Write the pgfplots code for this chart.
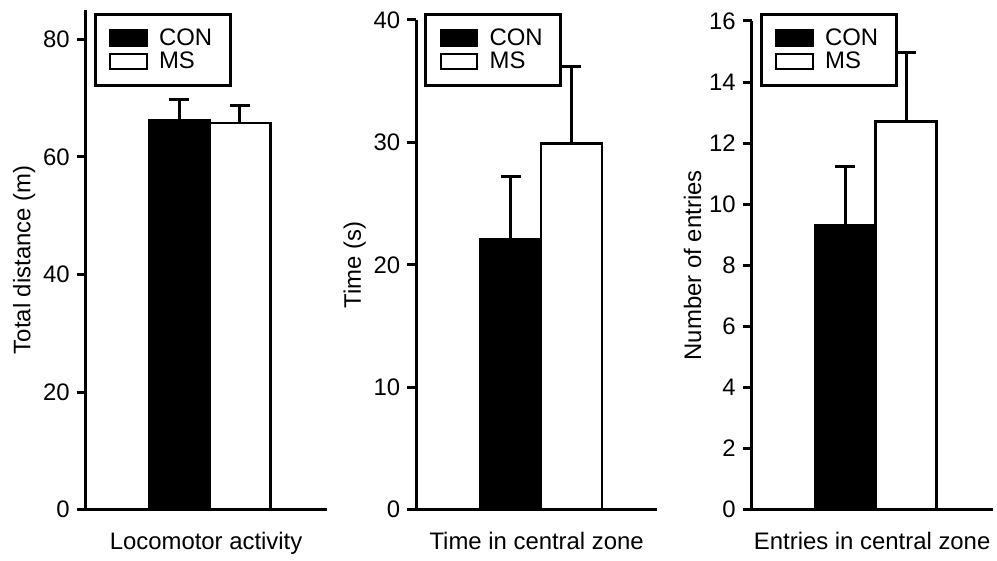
\documentclass[border=0pt]{standalone}
\usepackage{fontspec}
\setmainfont{Liberation Sans}
\usepackage{pgfplots}
\pgfplotsset{compat=1.18}

\pgfplotsset{
  panel/.style={
    scale only axis,
    width=121pt,
    xmin=0, xmax=242,
    ymin=0,
    axis lines=left,
    axis line style={-, line width=1.5pt},
    xtick=\empty,
    tick align=outside,
    major tick length=4.5pt,
    ytick style={line width=1.5pt, black},
    /pgf/number format/assume math mode=true,
    tick label style={font=\fontsize{12}{14}\selectfont},
    label style={font=\fontsize{12}{14}\selectfont},
    xlabel style={yshift=-3pt},
    ylabel style={yshift=-3pt},
    ybar, bar shift=0pt, bar width=61,
    legend style={
      at={(axis description cs:0.033,1)}, anchor=north west,
      draw=black, line width=1.5pt,
      font=\fontsize{12}{14}\selectfont,
      inner xsep=7pt, inner ysep=5pt,
      row sep=-2pt,
      cells={anchor=west},
    },
    legend image code/.code={
      \draw[#1, line width=1pt] (0pt,-3.8pt) rectangle (18.5pt,4pt);
      \path (22pt,0pt);
    },
  },
  con/.style={fill=black, draw=black, line width=1.3pt,
    error bars/.cd, y dir=plus, y explicit,
    error bar style={line width=1.5pt, black},
    error mark options={rotate=90, line width=1.5pt, mark size=5pt, black}},
  ms/.style={fill=white, draw=black, line width=1.3pt,
    error bars/.cd, y dir=plus, y explicit,
    error bar style={line width=1.5pt, black},
    error mark options={rotate=90, line width=1.5pt, mark size=5pt, black}},
}

\begin{document}
\begin{tikzpicture}
% Locomotor activity
\begin{axis}[panel,
  at={(43pt,0pt)}, anchor=south west,
  height=251pt, ymax=85,
  ytick={0,20,40,60,80},
  ylabel={Total distance (m)},
  xlabel={Locomotor activity},
  legend style={yshift=-1.5pt},
]
\addplot[con] coordinates {(94,66.2) +- (0,3.5)};
\addplot[ms] coordinates {(155,65.8) +- (0,3.0)};
\legend{CON, MS}
\end{axis}

% Time in central zone
\begin{axis}[panel,
  at={(209pt,0pt)}, anchor=south west,
  height=246pt, ymax=40,
  ytick={0,10,20,30,40},
  ylabel={Time (s)},
  xlabel={Time in central zone},
  legend style={yshift=3.5pt},
]
\addplot[con] coordinates {(95,22.1) +- (0,5.1)};
\addplot[ms] coordinates {(156,29.9) +- (0,6.3)};
\legend{CON, MS}
\end{axis}

% Entries in central zone
\begin{axis}[panel,
  at={(377.5pt,0pt)}, anchor=south west,
  height=245.5pt, ymax=16,
  ytick={0,2,...,16},
  ylabel={Number of entries},
  xlabel={Entries in central zone},
  legend style={yshift=4pt},
]
\addplot[con] coordinates {(94,9.3) +- (0,1.95)};
\addplot[ms] coordinates {(155,12.7) +- (0,2.25)};
\legend{CON, MS}
\end{axis}

% page margins as in the reference
\path (0pt,-23pt) rectangle (498.5pt,256pt);
\end{tikzpicture}
\end{document}
